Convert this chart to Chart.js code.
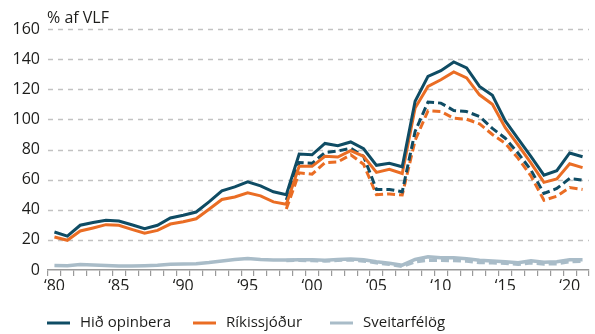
<!DOCTYPE html>
<html>
<head>
<meta charset="utf-8">
<script src="https://cdn.jsdelivr.net/npm/chart.js@4.4.1/dist/chart.umd.min.js"></script>
<style>
  html, body { margin: 0; padding: 0; background: #fff; }
  #wrap { width: 595px; height: 334px; position: relative; }
</style>
</head>
<body>
<div id="wrap"><canvas id="debt"></canvas></div>
<script>
// Skuldir hins opinbera, % af VLF, 1980-2021
const YEARS = [1980,1981,1982,1983,1984,1985,1986,1987,1988,1989,
  1990,1991,1992,1993,1994,1995,1996,1997,1998,1999,
  2000,2001,2002,2003,2004,2005,2006,2007,2008,2009,
  2010,2011,2012,2013,2014,2015,2016,2017,2018,2019,2020,2021];

const hidOpinbera = [25.2,22.5,29.7,31.5,33.0,32.5,30.0,27.5,29.7,34.5,
  36.3,38.5,45.2,52.5,55.2,58.5,55.9,51.9,50.0,77.0,
  76.5,84.0,82.5,85.0,80.5,69.5,70.8,68.5,112.0,128.6,
  132.3,138.1,134.1,121.9,116.0,99.0,87.0,75.2,63.0,65.9,77.7,75.2];

const rikissjodur = [21.9,19.7,25.9,27.9,30.1,29.7,27.0,24.5,26.3,30.5,
  32.0,34.0,40.3,46.8,48.5,51.2,49.2,45.2,43.7,68.8,
  68.8,75.5,75.0,79.3,75.5,64.8,66.8,64.1,107.5,121.9,
  126.3,131.5,127.5,116.3,110.0,94.5,83.0,71.0,58.2,60.5,70.5,68.0];

const sveitarfelog = [3.0,2.8,3.6,3.4,3.0,2.6,2.7,2.9,3.2,3.8,
  4.0,4.2,5.0,6.0,7.0,7.6,7.0,6.6,6.6,6.8,
  6.8,6.5,7.0,7.3,6.8,5.5,4.5,3.2,7.0,8.8,
  8.2,8.2,7.5,6.5,6.0,5.5,4.8,6.2,5.2,5.5,6.8,6.8];

// brotnar línur: frá 1998
const hidOpinberaB = [null,null,null,null,null,null,null,null,null,null,
  null,null,null,null,null,null,null,null,46.5,71.3,
  70.8,78.0,79.0,80.8,75.5,53.5,53.5,51.9,92.0,111.5,
  110.8,105.9,105.2,101.9,94.0,87.5,77.5,66.3,50.8,54.1,60.8,59.7];

const rikissjodurB = [null,null,null,null,null,null,null,null,null,null,
  null,null,null,null,null,null,null,null,40.5,64.5,
  63.6,71.3,71.7,76.5,70.2,50.0,50.5,49.8,86.0,105.7,
  105.2,100.8,100.1,97.0,90.0,84.1,74.1,62.3,46.3,49.0,54.8,53.5];

const sveitarfelogB = [null,null,null,null,null,null,null,null,null,null,
  null,null,null,null,null,null,null,null,6.3,6.5,
  6.3,6.0,6.5,6.8,6.0,4.8,3.8,2.5,5.5,6.5,
  6.5,6.3,6.0,5.0,4.8,4.5,3.8,4.8,4.0,4.2,5.5,5.8];

const C_DARK = '#0f4c64';
const C_ORANGE = '#ea6d24';
const C_GREY = '#a9bcc8';
const TEXT = '#1d1d1b';
const FONT = '"Open Sans", sans-serif';
const LEGEND_X = [47, 193, 330];

function solid(label, data, color, w) {
  return { label, data, borderColor: color, backgroundColor: color, borderWidth: w || 3,
    pointRadius: 0, tension: 0, fill: false };
}
function dashed(label, data, color, w) {
  return { ...solid(label, data, color, w), borderDash: [8, 4] };
}

// strikaðar hnitalínur á y-ás (ekki við 0, þar er ásinn)
const dashedGrid = {
  id: 'dashedGrid',
  beforeDatasetsDraw(chart) {
    const { ctx, chartArea, scales } = chart;
    const y = scales.y;
    ctx.save();
    ctx.strokeStyle = '#c2c2c2';
    ctx.lineWidth = 1.5;
    ctx.setLineDash([5, 5]);
    y.ticks.forEach(t => {
      if (t.value === 0) return;
      const py = Math.round(y.getPixelForValue(t.value)) + 0.5;
      ctx.beginPath(); ctx.moveTo(chartArea.left, py); ctx.lineTo(chartArea.right, py); ctx.stroke();
    });
    ctx.restore();
  }
};

// "% af VLF" fyrir ofan y-ás
const unitLabel = {
  id: 'unitLabel',
  afterDraw(chart) {
    const { ctx, chartArea } = chart;
    ctx.save();
    ctx.font = '16px ' + FONT;
    ctx.fillStyle = TEXT;
    ctx.textBaseline = 'alphabetic';
    ctx.fillText('% af VLF', chartArea.left - 1, 23);
    ctx.restore();
  }
};

// skýringar neðst: aðeins heilu línurnar
const lineLegend = {
  id: 'lineLegend',
  afterDraw(chart) {
    const { ctx } = chart;
    const y = 323;
    ctx.save();
    ctx.font = '15px ' + FONT;
    ctx.textBaseline = 'middle';
    LEGEND_X.forEach((x, i) => {
      const ds = chart.data.datasets[i];
      ctx.strokeStyle = ds.borderColor;
      ctx.lineWidth = 3;
      ctx.beginPath(); ctx.moveTo(x, y); ctx.lineTo(x + 23, y); ctx.stroke();
      ctx.fillStyle = TEXT;
      ctx.fillText(ds.label, x + 33, y);
    });
    ctx.restore();
  }
};

new Chart(document.getElementById('debt'), {
  type: 'line',
  data: {
    labels: YEARS,
    datasets: [
      solid('Hið opinbera', hidOpinbera, C_DARK),
      solid('Ríkissjóður', rikissjodur, C_ORANGE),
      solid('Sveitarfélög', sveitarfelog, C_GREY, 3.5),
      dashed('Hið opinbera (án)', hidOpinberaB, C_DARK),
      dashed('Ríkissjóður (án)', rikissjodurB, C_ORANGE),
      dashed('Sveitarfélög (án)', sveitarfelogB, C_GREY, 3.5),
    ]
  },
  options: {
    responsive: true, maintainAspectRatio: false, animation: false,
    layout: { padding: { top: 29, right: 6, bottom: 44, left: 0 } },
    plugins: { legend: { display: false }, tooltip: { enabled: false } },
    scales: {
      x: {
        type: 'category', offset: true,
        grid: { display: true, offset: true, drawOnChartArea: false, drawTicks: true,
          tickLength: 6, color: '#9a9a9a', lineWidth: 1.2 },
        border: { display: true, color: '#9a9a9a', width: 1.5 },
        ticks: { autoSkip: false, maxRotation: 0, padding: 1, color: TEXT,
          font: { family: FONT, size: 16 },
          callback(v, i) { const y = YEARS[i]; return y % 5 === 0 ? '\u2018' + String(y).slice(2) : ''; } },
        afterFit(s) { s.height = 20; }
      },
      y: {
        min: 0, max: 160,
        grid: { display: false, drawTicks: false },
        border: { display: false },
        ticks: { stepSize: 20, padding: 8, color: TEXT, font: { family: FONT, size: 16 } },
        afterFit(s) { s.width = 48; }
      }
    }
  },
  plugins: [dashedGrid, unitLabel, lineLegend]
});
</script>
</body>
</html>
